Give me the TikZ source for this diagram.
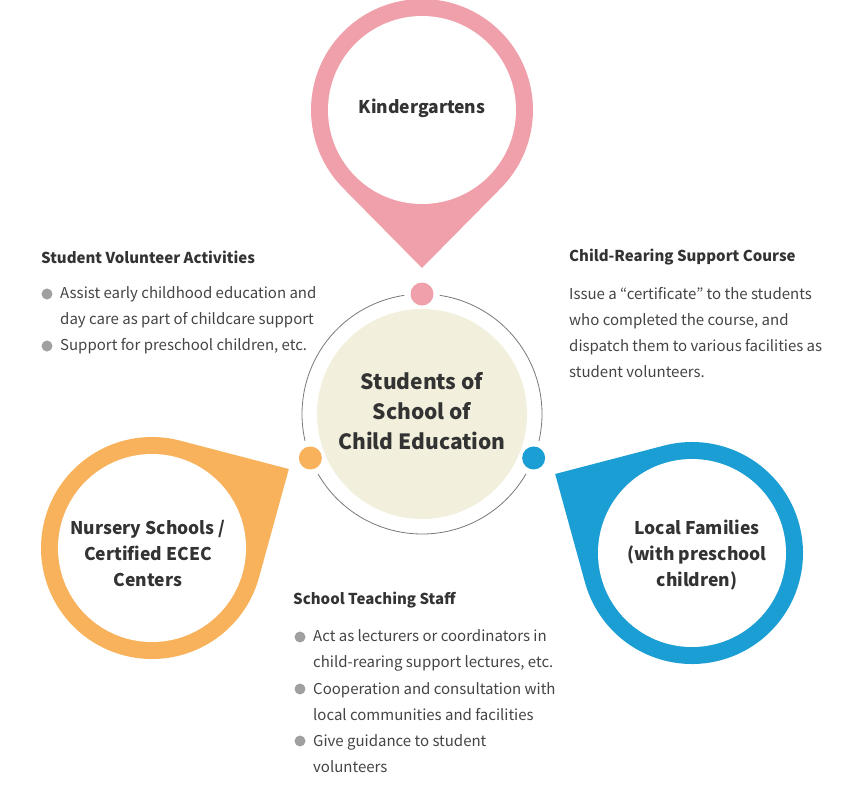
\documentclass[tikz,border=0pt]{standalone}
\usepackage{fontspec}
\setmainfont{Noto Sans CJK JP}
\usetikzlibrary{calc, positioning}

\definecolor{kgpink}{RGB}{240,160,171}
\definecolor{nsorange}{RGB}{249,178,92}
\definecolor{lfblue}{RGB}{27,158,212}
\definecolor{corebeige}{RGB}{242,239,220}
\definecolor{ringgray}{RGB}{120,120,120}
\definecolor{dotgray}{RGB}{160,160,160}
\definecolor{headink}{RGB}{51,51,51}
\definecolor{bodyink}{RGB}{68,68,68}

\begin{document}
\begin{tikzpicture}[
    x=1pt, y=1pt,
    pininner/.style={circle, fill=white, minimum size=188pt, inner sep=0pt},
    pinlabel/.style={align=center, text=headink, font=\fontsize{17.5}{26}\selectfont\bfseries},
    core/.style={circle, fill=corebeige, minimum size=210pt, inner sep=0pt},
    corelabel/.style={align=center, text=headink, font=\fontsize{21}{30}\selectfont\bfseries},
    heading/.style={anchor=west, inner sep=0pt, text=headink,
        font=\fontsize{15}{26}\selectfont\bfseries},
    bodytext/.style={anchor=west, inner sep=0pt, align=left, text=bodyink,
        font=\fontsize{15}{26}\selectfont},
    bullet/.style={circle, fill=dotgray, minimum size=11pt, inner sep=0pt},
    linkdot/.style={circle, minimum size=23pt, inner sep=0pt}]

\useasboundingbox (0,0) rectangle (843,-793);

% Pins: center / tip angle / colour
\foreach \cx/\cy/\a/\col in {422/-110/270/kgpink, 152/-548/30/nsorange, 692/-553/150/lfblue}
  \fill[\col] ($(\cx,\cy)+(\a+45.4:111)$)
      arc[start angle=\a+45.4, end angle=\a+314.6, radius=111]
      -- ($(\cx,\cy)+(\a:158)$) -- cycle;

\node[pininner] (kinder) at (422,-110) {};
\node[pinlabel] (kindertxt) at (422,-108) {Kindergartens};
\node[pininner] (nursery) at (152,-548) {};
\node[pinlabel] (nurserytxt) at (148,-553) {Nursery Schools /\\Certified ECEC\\Centers};
\node[pininner] (families) at (692,-553) {};
\node[pinlabel] (familiestxt) at (697,-555) {Local Families\\(with preschool\\children)};

% Centre circle
\coordinate (mid) at (422,-414);
\draw[ringgray, line width=0.8pt] ($(mid)+(98.5:120)$) arc[start angle=98.5, end angle=193, radius=120];
\draw[ringgray, line width=0.8pt] ($(mid)+(210:120)$) arc[start angle=210, end angle=330, radius=120];
\draw[ringgray, line width=0.8pt] ($(mid)+(347:120)$) arc[start angle=347, end angle=441.5, radius=120];
\node[core] (students) at (mid) {};
\node[corelabel] (studentstxt) at (422,-411) {Students of\\School of\\Child Education};

\node[linkdot, fill=kgpink] (dotk) at ($(mid)+(90:120)$) {};
\node[linkdot, fill=nsorange] (dotn) at ($(mid)+(201.5:120)$) {};
\node[linkdot, fill=lfblue] (dotf) at ($(mid)+(338.5:120)$) {};

% Student Volunteer Activities
\node[heading] (svhead) at (41,-257) {Student Volunteer Activities};
\node[bullet] (svb1) at (47,-294) {};
\node[bodytext] (svt1) at (60,-307) {Assist early childhood education and\\day care as part of childcare support};
\node[bullet] (svb2) at (47,-346) {};
\node[bodytext] (svt2) at (60,-346) {Support for preschool children, etc.};

% Child-Rearing Support Course
\node[heading] (crhead) at (569,-257) {Child-Rearing Support Course};
\node[bodytext] (crtext) at (569,-333) {Issue a “certificate” to the students\\who completed the course, and\\dispatch them to various facilities as\\student volunteers.};

% School Teaching Staff
\node[heading] (sthead) at (293,-600) {School Teaching Staff};
\node[bullet] (stb1) at (300,-637) {};
\node[bodytext] (stt1) at (313,-650) {Act as lecturers or coordinators in\\child-rearing support lectures, etc.};
\node[bullet] (stb2) at (300,-689) {};
\node[bodytext] (stt2) at (313,-702) {Cooperation and consultation with\\local communities and facilities};
\node[bullet] (stb3) at (300,-741) {};
\node[bodytext] (stt3) at (313,-754) {Give guidance to student\\volunteers};
\end{tikzpicture}
\end{document}
